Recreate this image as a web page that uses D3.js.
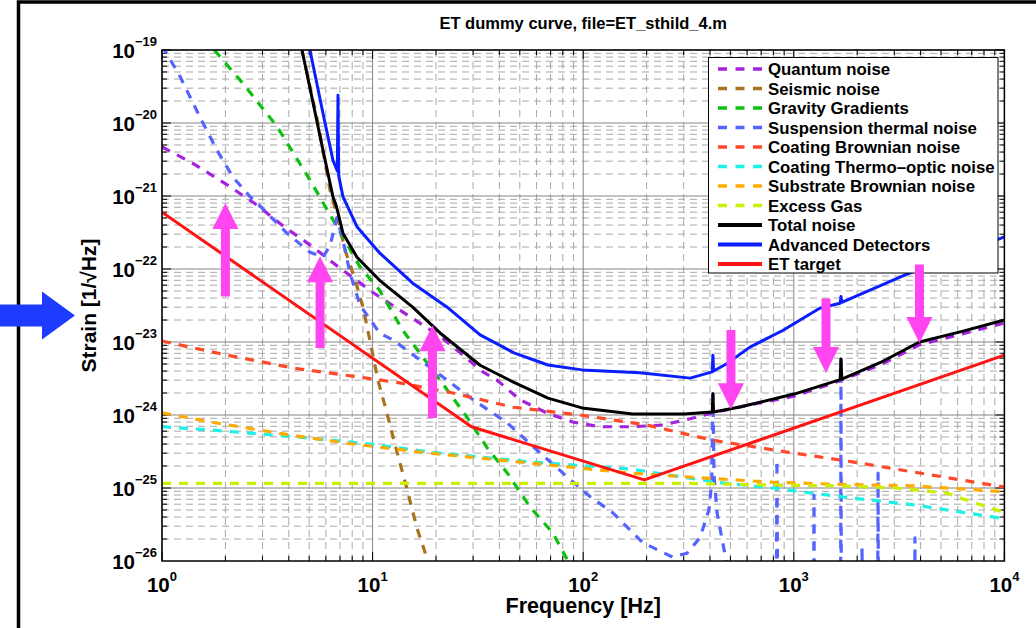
<!DOCTYPE html>
<html><head><meta charset="utf-8">
<script src="https://cdn.jsdelivr.net/npm/d3@7"></script>
<style>
body{margin:0;background:#fff}
svg{display:block}
text{font-family:"Liberation Sans",Arial,Helvetica,sans-serif;font-weight:bold;fill:#000}
</style>
</head><body>
<svg id="c" width="1036" height="628"></svg>
<script>
// ---------- data ----------
const titleText = "ET dummy curve, file=ET_sthild_4.m";
const xLabel = "Frequency [Hz]";
const yLabel = "Strain [1/\u221AHz]";
const xTicks = [1, 10, 100, 1000, 10000];
const xTickExp = ["0", "1", "2", "3", "4"];
const yTicks = [1e-19, 1e-20, 1e-21, 1e-22, 1e-23, 1e-24, 1e-25, 1e-26];
const yTickExp = ["\u221219", "\u221220", "\u221221", "\u221222", "\u221223", "\u221224", "\u221225", "\u221226"];

const quantumNoise = [[1,4.7e-21],[1.4,2.8e-21],[2.04,1.42e-21],[2.83,7.5e-22],[3.75,3.9e-22],[5.04,2.14e-22],[7.0,1.03e-22],[10,4.8e-23],[15.5,2.1e-23],[20.9,1.2e-23],[33.4,3.9e-24],[39,3.0e-24],[50,1.62e-24],[67,1.07e-24],[89.5,8.0e-25],[120,6.9e-25],[172,6.9e-25],[239,7.3e-25],[322,8.9e-25],[413,1.07e-24],[555,1.29e-24],[1013,1.82e-24],[1657,2.95e-24],[2566,4.84e-24],[3930,9.1e-24],[6290,1.29e-23],[10000,1.82e-23]];
const seismicNoise = [[4.62,1e-19],[5.5,1e-20],[6.28,1.2e-21],[6.77,5.5e-22],[7.4,1.82e-22],[8.26,7.1e-23],[9.0,3.0e-23],[9.7,1.07e-23],[10.6,3.0e-24],[11.6,1.17e-24],[12.5,5.0e-25],[14.6,9.4e-26],[16.2,2.9e-26],[18.3,1e-26],[19.5,5e-27]];
const gravityGradients = [[1.77,1e-19],[2.42,3.5e-20],[3.52,8.9e-21],[5.04,1.66e-21],[6.77,3.8e-22],[8.71,1.07e-22],[10.8,5.1e-23],[13.9,1.45e-23],[20.9,3.0e-24],[28.1,9.3e-25],[34.9,3.6e-25],[43.5,1.62e-25],[55.9,5.5e-26],[71.9,2.4e-26],[84.7,1e-26],[95,5e-27]];
const suspensionThermal = [[1,1.15e-19],[1.22,4.3e-20],[1.515,1.2e-20],[1.82,4.3e-21],[2.17,1.82e-21],[2.62,9.8e-22],[2.83,8.0e-22],[3.92,3.1e-22],[5.04,1.7e-22],[5.81,1.45e-22],[6.28,2.1e-22],[6.77,5.0e-22],[7.23,2.5e-22],[7.8,8.9e-23],[8.71,3.2e-23],[10,1.82e-23],[10.8,1.32e-23],[12.5,1.07e-23],[22.6,3.0e-24],[30,1.62e-24],[43.6,7.8e-25],[62.7,3.0e-25],[84,1.42e-25],[108,7.6e-26],[138,4.6e-26],[192,1.78e-26],[266,1.13e-26],[311,1.28e-26],[359,2.1e-26],[395,5e-26],[408,1.2e-25],[413,1.95e-24],[418,1.5e-25],[432,4.6e-26],[464,1.55e-26],[490,7e-27],[520,3e-27],[700,1.5e-27],[825,1e-27],[832,2.4e-25],[839,1e-27],[1240,1e-27],[1247,8e-26],[1254,1e-27],[1668,1e-27],[1675,5.8e-24],[1682,1e-27],[2100,1e-27],[2109,1.55e-26],[2118,1e-27],[2500,1e-27],[2512,1.6e-25],[2524,1e-27],[3745,1e-27],[3760,2.07e-26],[3775,1e-27],[10000,1e-27]];
const coatingBrownian = [[1,1.03e-23],[2.04,6.6e-24],[4.19,4.4e-24],[8.71,3.3e-24],[13.5,2.75e-24],[24.1,2.0e-24],[46.4,1.28e-24],[96.6,1.0e-24],[200,7.3e-25],[413,4.5e-25],[930,3.1e-25],[1900,2.28e-25],[3680,1.66e-25],[10000,1.03e-25]];
const coatingThermoOptic = [[1,6.9e-25],[1.75,6.2e-25],[4.38,5.0e-25],[9.7,4.0e-25],[18.8,3.1e-25],[55.6,2.28e-25],[167,1.82e-25],[430,1.2e-25],[794,1.0e-25],[1660,7.6e-26],[3680,5.9e-26],[10000,3.8e-26]];
const substrateBrownian = [[1,1.07e-24],[1.75,7.9e-25],[3.63,5.6e-25],[7.55,4.1e-25],[18.8,3.0e-25],[55.6,2.2e-25],[167,1.6e-25],[359,1.38e-25],[794,1.2e-25],[1660,1.12e-25],[3680,1.07e-25],[10000,8.9e-26]];
const excessGas = [[1,1.16e-25],[288,1.16e-25],[794,1.1e-25],[1660,1.07e-25],[3060,1.0e-25],[5340,8.5e-26],[7070,6.4e-26],[10000,4.6e-26]];
const totalNoise = [[4.62,1e-19],[5.81,4.26e-21],[6.48,9.8e-22],[6.7,7.5e-22],[6.85,5.9e-22],[7.23,3.1e-22],[8.43,1.45e-22],[10.8,7.0e-23],[15.5,3.0e-23],[20.9,1.33e-23],[32.4,4.8e-24],[46.9,2.8e-24],[68,1.7e-24],[98.7,1.25e-24],[172,1.03e-24],[301,1.03e-24],[410,1.1e-24],[413,1.95e-24],[416,1.1e-24],[555,1.29e-24],[1013,1.95e-24],[1660,3.05e-24],[1675,5.85e-24],[1690,3.1e-24],[2566,5.2e-24],[3950,1.0e-23],[6300,1.4e-23],[10000,2.0e-23]];
const advancedDetectors = [[5.04,1e-19],[5.81,1.37e-20],[6.48,3.1e-21],[6.8,2.2e-21],[6.85,2.4e-20],[6.9,1.9e-21],[7.23,9.8e-22],[8.43,3.8e-22],[10.8,1.66e-22],[15.5,6.4e-23],[22.6,3.0e-23],[32.4,1.25e-23],[46.9,7.1e-24],[68,4.84e-24],[98.7,4.15e-24],[186,3.8e-24],[322,3.2e-24],[410,3.9e-24],[413,6.6e-24],[416,4.0e-24],[478,5.0e-24],[619,8.5e-24],[890,1.45e-23],[1327,2.9e-23],[1660,3.4e-23],[1675,4.2e-23],[1690,3.5e-23],[3380,8.3e-23],[10000,2.75e-22]];
const etTarget = [[1,6.0e-22],[29.5,6.9e-25],[195,1.29e-25],[10000,6.6e-24]];

const seriesNames = ["Quantum noise","Seismic noise","Gravity Gradients","Suspension thermal noise","Coating Brownian noise","Coating Thermo\u2013optic noise","Substrate Brownian noise","Excess Gas","Total noise","Advanced Detectors","ET target"];
const seriesColors = ["#a424dc","#a8721e","#10c010","#5563ff","#ff4a2a","#1ef0e6","#ffaa00","#ccee00","#000000","#0a1eff","#ff1414"];
const seriesDashed = [true,true,true,true,true,true,true,true,false,false,false];
const seriesData = [quantumNoise,seismicNoise,gravityGradients,suspensionThermal,coatingBrownian,coatingThermoOptic,substrateBrownian,excessGas,totalNoise,advancedDetectors,etTarget];

// annotation arrows (frequency, tail strain, tip strain)
const arrowsUp = [[2.0,4.2e-23,8.0e-22],[5.63,8.3e-24,1.5e-22],[19.25,9.1e-25,1.7e-23]];
const arrowsDown = [[503,1.46e-23,1.2e-24],[1422,3.94e-23,3.76e-24],[3950,1.15e-22,9.7e-24]];

// ---------- drawing ----------
const svg = d3.select("#c");
const L = 162, R = 1004.4, T = 50, B = 561;
const x = d3.scaleLog().domain([1, 1e4]).range([L, R]);
const y = d3.scaleLog().domain([1e-26, 1e-19]).range([B, T]);

svg.append("rect").attr("width",1036).attr("height",628).attr("fill","#fff");
svg.append("rect").attr("x",18.5).attr("y",2).attr("width",1100).attr("height",700)
  .attr("fill","none").attr("stroke","#000").attr("stroke-width",3.5);

const isMajor = v => Math.abs(Math.log10(v) - Math.round(Math.log10(v))) < 1e-6;
const xt = x.ticks(), yt = y.ticks();

const grid = svg.append("g");
xt.filter(v => !isMajor(v)).forEach(v => {
  grid.append("line").attr("x1",x(v)).attr("x2",x(v)).attr("y1",T).attr("y2",B)
    .attr("stroke","#a8a8a8").attr("stroke-width",1).attr("stroke-dasharray","7,5");
});
yt.filter(v => !isMajor(v)).forEach(v => {
  grid.append("line").attr("y1",y(v)).attr("y2",y(v)).attr("x1",L).attr("x2",R)
    .attr("stroke","#a8a8a8").attr("stroke-width",1).attr("stroke-dasharray","7,5");
});
xt.filter(isMajor).forEach(v => {
  grid.append("line").attr("x1",x(v)).attr("x2",x(v)).attr("y1",T).attr("y2",B)
    .attr("stroke","#858585").attr("stroke-width",1);
});
yt.filter(isMajor).forEach(v => {
  grid.append("line").attr("y1",y(v)).attr("y2",y(v)).attr("x1",L).attr("x2",R)
    .attr("stroke","#858585").attr("stroke-width",1);
});

const tk = svg.append("g").attr("stroke","#000").attr("stroke-width",1);
xt.forEach(v => {
  const len = isMajor(v) ? 9 : 5;
  tk.append("line").attr("x1",x(v)).attr("x2",x(v)).attr("y1",B).attr("y2",B-len);
  tk.append("line").attr("x1",x(v)).attr("x2",x(v)).attr("y1",T).attr("y2",T+len);
});
yt.forEach(v => {
  const len = isMajor(v) ? 9 : 5;
  tk.append("line").attr("y1",y(v)).attr("y2",y(v)).attr("x1",L).attr("x2",L+len);
  tk.append("line").attr("y1",y(v)).attr("y2",y(v)).attr("x1",R).attr("x2",R-len);
});

svg.append("defs").append("clipPath").attr("id","clip")
  .append("rect").attr("x",L).attr("y",T).attr("width",R-L).attr("height",B-T);
const line = d3.line().x(d => x(d[0])).y(d => y(d[1]));
const plot = svg.append("g").attr("clip-path","url(#clip)");
seriesData.forEach((s,i) => {
  plot.append("path").attr("d", line(s)).attr("fill","none")
    .attr("stroke", seriesColors[i])
    .attr("stroke-width", seriesDashed[i] ? 3.2 : 3)
    .attr("stroke-dasharray", seriesDashed[i] ? "9,8" : null)
    .attr("stroke-linejoin","round");
});

svg.append("rect").attr("x",L).attr("y",T).attr("width",R-L).attr("height",B-T)
  .attr("fill","none").attr("stroke","#000").attr("stroke-width",1.5);

xTicks.forEach((v,i) => {
  const t = svg.append("text").attr("x",x(v)).attr("y",592).attr("text-anchor","middle").attr("font-size",20.5);
  t.append("tspan").text("10");
  t.append("tspan").attr("dy",-11).attr("font-size",13).text(xTickExp[i]);
});
yTicks.forEach((v,i) => {
  const t = svg.append("text").attr("x",157).attr("y",y(v)+7.5).attr("text-anchor","end").attr("font-size",20.5);
  t.append("tspan").text("10");
  t.append("tspan").attr("dy",-12).attr("font-size",13).text(yTickExp[i]);
});

svg.append("text").attr("x",(L+R)/2).attr("y",29).attr("text-anchor","middle").attr("font-size",16.5).text(titleText);
svg.append("text").attr("x",(L+R)/2).attr("y",613).attr("text-anchor","middle").attr("font-size",21.5).text(xLabel);
svg.append("text").attr("transform",`translate(96,${(T+B)/2}) rotate(-90)`).attr("text-anchor","middle").attr("font-size",21).text(yLabel);

const lg = svg.append("g");
lg.append("rect").attr("x",708.5).attr("y",57.5).attr("width",289.5).attr("height",215.5)
  .attr("fill","#fff").attr("stroke","#000").attr("stroke-width",1);
seriesNames.forEach((n,i) => {
  const cy = 69 + i*19.5;
  lg.append("line").attr("x1",718).attr("x2",762).attr("y1",cy).attr("y2",cy)
    .attr("stroke",seriesColors[i]).attr("stroke-width",seriesDashed[i]?3.4:3.8)
    .attr("stroke-dasharray",seriesDashed[i]?"9,8.5":null);
  lg.append("text").attr("x",768).attr("y",cy+6).attr("font-size",16.8).text(n);
});

const mag = "#ff45f0";
function vArrow(cx, yTail, yTip) {
  const dir = yTip < yTail ? -1 : 1;
  const hl = 26, hw = 13, sw = 4.5;
  const yb = yTip - dir*hl;
  const pts = [[cx-sw,yTail],[cx+sw,yTail],[cx+sw,yb],[cx+hw,yb],[cx,yTip],[cx-hw,yb],[cx-sw,yb]];
  svg.append("polygon").attr("points", pts.map(p=>p.join(",")).join(" ")).attr("fill",mag);
}
arrowsUp.forEach(a => vArrow(x(a[0]), y(a[1]), y(a[2])));
arrowsDown.forEach(a => vArrow(x(a[0]), y(a[1]), y(a[2])));

const ay = (T+B)/2 + 10;
svg.append("polygon")
  .attr("points", [[0,ay-11],[42,ay-11],[42,ay-24],[75,ay],[42,ay+24],[42,ay+11],[0,ay+11]].map(p=>p.join(",")).join(" "))
  .attr("fill","#1e3cff");
</script>
</body></html>
